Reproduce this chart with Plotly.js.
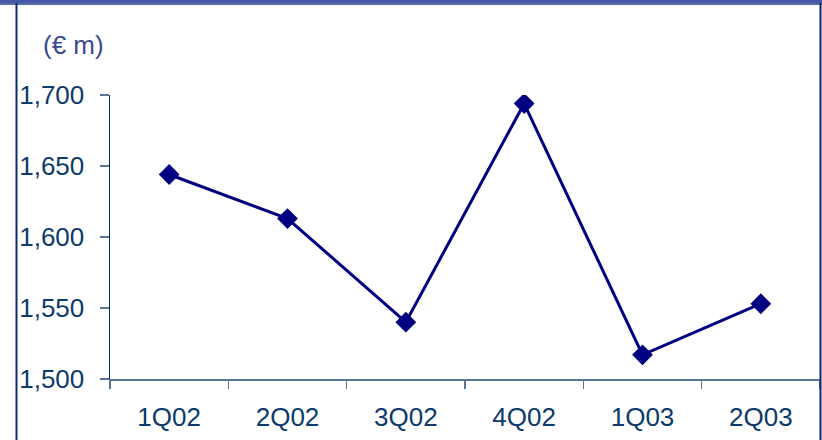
<!DOCTYPE html>
<html>
<head>
<meta charset="utf-8">
<script src="https://cdn.plot.ly/plotly-3.0.1.min.js"></script>
<style>
  html, body { margin: 0; padding: 0; background: #ffffff; }
  #chart { width: 822px; height: 440px; }
</style>
</head>
<body>
<div id="chart"></div>
<script>
// Quarterly values, € millions
const quarters = ["1Q02", "2Q02", "3Q02", "4Q02", "1Q03", "2Q03"];
const values = [1644, 1613, 1540, 1694, 1517, 1553];
const yTicks = [1500, 1550, 1600, 1650, 1700];
const yTickText = ["1,500", "1,550", "1,600", "1,650", "1,700"];

// Plot area in pixels: x 110..820, y 95..379
const L = 110, R = 820, T = 95, B = 379;
const px = x => (x - L) / (R - L);
const py = y => (B - y) / (B - T);

const trace = {
  x: quarters,
  y: values,
  type: "scatter",
  mode: "lines+markers",
  line: { color: "#000080", width: 3 },
  marker: { symbol: "diamond", size: 16, color: "#000080" },
  hoverinfo: "x+y"
};

const tickFont = { family: "Liberation Sans, Arial, sans-serif", size: 26, color: "#0b3a6b" };

const layout = {
  width: 822,
  height: 440,
  margin: { l: L, r: 822 - R, t: T, b: 440 - B },
  paper_bgcolor: "#ffffff",
  plot_bgcolor: "#ffffff",
  showlegend: false,
  xaxis: {
    type: "category",
    range: [-0.5, quarters.length - 0.5],
    tickson: "boundaries",
    ticks: "outside",
    ticklen: 8,
    tickwidth: 1.5,
    tickcolor: "#5b7596",
    ticklabelstandoff: 14,
    showline: true,
    linecolor: "#5b7596",
    linewidth: 1.5,
    showgrid: false,
    zeroline: false,
    tickfont: tickFont,
    fixedrange: true
  },
  yaxis: {
    range: [1500, 1700],
    tickvals: yTicks,
    ticktext: yTickText,
    ticks: "outside",
    ticklen: 9,
    tickwidth: 1.5,
    tickcolor: "#5b7596",
    ticklabelstandoff: 10,
    showline: true,
    linecolor: "#0a2a6a",
    linewidth: 1.5,
    showgrid: false,
    zeroline: false,
    tickfont: tickFont,
    fixedrange: true
  },
  annotations: [{
    text: "(€ m)",
    xref: "paper", yref: "paper",
    x: px(41), y: py(45),
    xanchor: "left", yanchor: "middle",
    showarrow: false,
    font: { family: "Liberation Sans, Arial, sans-serif", size: 26, color: "#3a4a8c" }
  }],
  shapes: [
    // frame: top band, left and right rules
    { type: "rect", xref: "paper", yref: "paper", x0: px(-5), x1: px(830), y0: py(0), y1: py(3),
      fillcolor: "#4858a8", line: { width: 0 }, layer: "above" },
    { type: "line", xref: "paper", yref: "paper", x0: px(-5), x1: px(830), y0: py(4), y1: py(4),
      line: { color: "#1f3d8f", width: 1.5 }, layer: "above" },
    { type: "line", xref: "paper", yref: "paper", x0: px(16.5), x1: px(16.5), y0: py(3), y1: py(445),
      line: { color: "#0a2a6a", width: 2 }, layer: "above" },
    { type: "line", xref: "paper", yref: "paper", x0: px(820.5), x1: px(820.5), y0: py(3), y1: py(445),
      line: { color: "#0a2a6a", width: 2 }, layer: "above" }
  ]
};

Plotly.newPlot("chart", [trace], layout, { displayModeBar: false, staticPlot: true });
</script>
</body>
</html>
